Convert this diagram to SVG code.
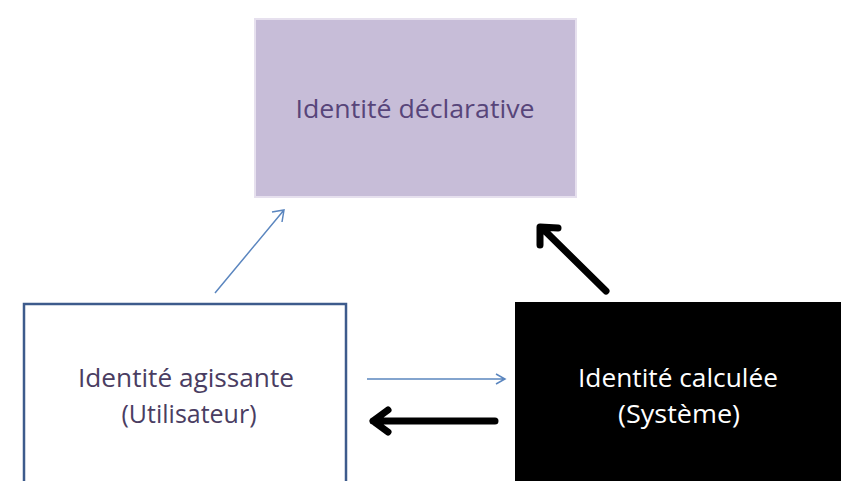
<svg xmlns="http://www.w3.org/2000/svg" width="841" height="481" viewBox="0 0 841 481">
<defs>
<style>
.lbl{font-family:"Open Sans","Liberation Sans",sans-serif;font-size:26px;text-anchor:middle}
.thin{stroke:#5b86bf;stroke-width:1.5;fill:none}
.thick{stroke:#000;stroke-width:7;fill:none;stroke-linecap:round;stroke-linejoin:round}
</style>
</defs>
<rect width="841" height="481" fill="#fff"/>
<g id="declarative">
<rect x="255" y="19" width="321" height="178" fill="#c7bdd8" stroke="#e6e0ee" stroke-width="2"/>
<text class="lbl" x="415" y="118" fill="#57457a" textLength="239" lengthAdjust="spacingAndGlyphs">Identité déclarative</text>
</g>
<g id="agissante">
<rect x="24" y="304" width="322" height="190" fill="#fff" stroke="#3d5b8c" stroke-width="2.5"/>
<text class="lbl" x="186" y="387" fill="#4a3d62" textLength="216" lengthAdjust="spacingAndGlyphs">Identité agissante</text>
<text class="lbl" x="189" y="423" fill="#4a3d62" textLength="135" lengthAdjust="spacingAndGlyphs">(Utilisateur)</text>
</g>
<g id="calculee">
<rect x="515" y="302" width="330" height="190" fill="#000"/>
<text class="lbl" x="678" y="387" fill="#fff" textLength="200" lengthAdjust="spacingAndGlyphs">Identité calculée</text>
<text class="lbl" x="679" y="423" fill="#fff" textLength="122" lengthAdjust="spacingAndGlyphs">(Système)</text>
</g>
<g id="connectors">
<path class="thin" d="M215 293 L284 210 M272 212 L284 210 L282 222"/>
<path class="thin" d="M367 379 L505 379 M496 374 L505 379 L496 384"/>
<path class="thick" d="M606 291 L542 228 M540 245 L540 227 L558 228"/>
<path class="thick" d="M495 421 L373 421 M388 410 L373 421 L388 432"/>
</g>
</svg>
